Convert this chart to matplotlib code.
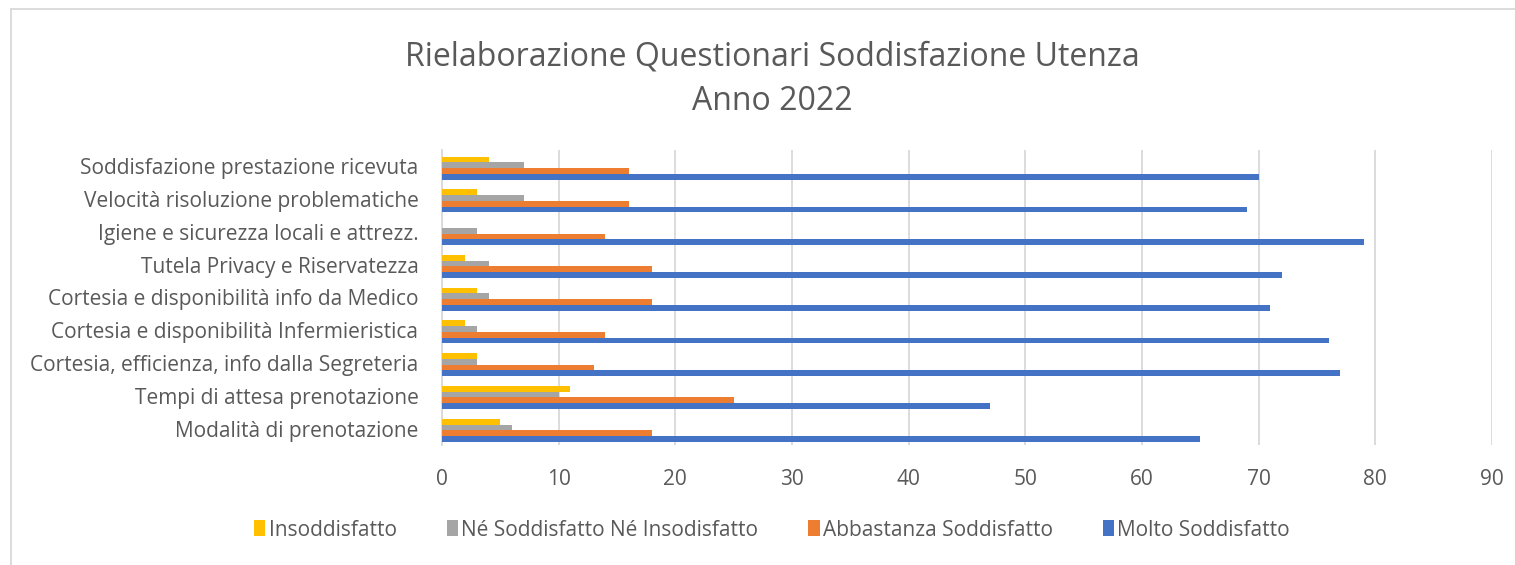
import matplotlib
matplotlib.use("Agg")
import matplotlib.pyplot as plt
import numpy as np
from matplotlib.patches import Patch
from matplotlib.lines import Line2D

categories = [
    "Modalità di prenotazione",
    "Tempi di attesa prenotazione",
    "Cortesia, efficienza, info dalla Segreteria",
    "Cortesia e disponibilità Infermieristica",
    "Cortesia e disponibilità info da Medico",
    "Tutela Privacy e Riservatezza",
    "Igiene e sicurezza locali e attrezz.",
    "Velocità risoluzione problematiche",
    "Soddisfazione prestazione ricevuta",
]
insoddisfatto = [5, 11, 3, 2, 3, 2, 0, 3, 4]
ne_ne = [6, 10, 3, 3, 4, 4, 3, 7, 7]
abbastanza = [18, 25, 13, 14, 18, 18, 14, 16, 16]
molto = [65, 47, 77, 76, 71, 72, 79, 69, 70]

series_names = ["Insoddisfatto", "Né Soddisfatto Né Insodisfatto",
                "Abbastanza Soddisfatto", "Molto Soddisfatto"]
series_vals = [insoddisfatto, ne_ne, abbastanza, molto]
colors = ["#FFC000", "#A5A5A5", "#ED7D31", "#4472C4"]

plt.rcParams['font.family'] = ['Open Sans', 'DejaVu Sans']
text_color = "#595959"

fig = plt.figure(figsize=(15.15, 5.65), dpi=100)
ax = fig.add_axes([442/1515, 1-445/565, 1050/1515, 295/565])

y = np.arange(len(categories))
h = 0.175
offsets = [1.5*h, 0.5*h, -0.5*h, -1.5*h]
for vals, c, off, name in zip(series_vals, colors, offsets, series_names):
    ax.barh(y + off - 0.05, vals, height=h, color=c, label=name, zorder=3)

ax.set_xlim(0, 90)
ax.set_ylim(-0.5, len(categories) - 0.5)
ax.set_xticks(np.arange(0, 91, 10))
ax.set_yticks(y)
ax.set_yticklabels(categories)
ax.grid(axis='x', color="#d9d9d9", linewidth=1.3, zorder=0)
for s in ["top", "right", "bottom"]:
    ax.spines[s].set_visible(False)
ax.spines["left"].set_color("#d9d9d9")
ax.spines["left"].set_linewidth(1.3)
ax.tick_params(axis='both', length=0, labelsize=15, labelcolor=text_color)
ax.tick_params(axis='y', pad=17)
ax.tick_params(axis='x', pad=17)

fig.text(772/1515, 1-57/565, "Rielaborazione Questionari Soddisfazione Utenza",
         ha='center', va='center', fontsize=23, color=text_color)
fig.text(772/1515, 1-101/565, "Anno 2022",
         ha='center', va='center', fontsize=23, color=text_color)

handles = [Patch(facecolor=c, edgecolor='none') for c in colors]
fig.legend(handles, series_names, loc='center', bbox_to_anchor=(772/1515, 1-530/565),
           ncol=4, frameon=False, fontsize=15, labelcolor=text_color,
           handlelength=0.55, handleheight=0.8, handletextpad=0.15, columnspacing=2.4)

# chart border
fig.add_artist(Line2D([10.5/1515, 1], [1-8.5/565, 1-8.5/565], color="#d9d9d9", lw=1.3,
                      transform=fig.transFigure))
fig.add_artist(Line2D([10.5/1515, 10.5/1515], [0, 1-8.5/565], color="#d9d9d9", lw=1.3,
                      transform=fig.transFigure))

fig.savefig("out.png", dpi=100)
